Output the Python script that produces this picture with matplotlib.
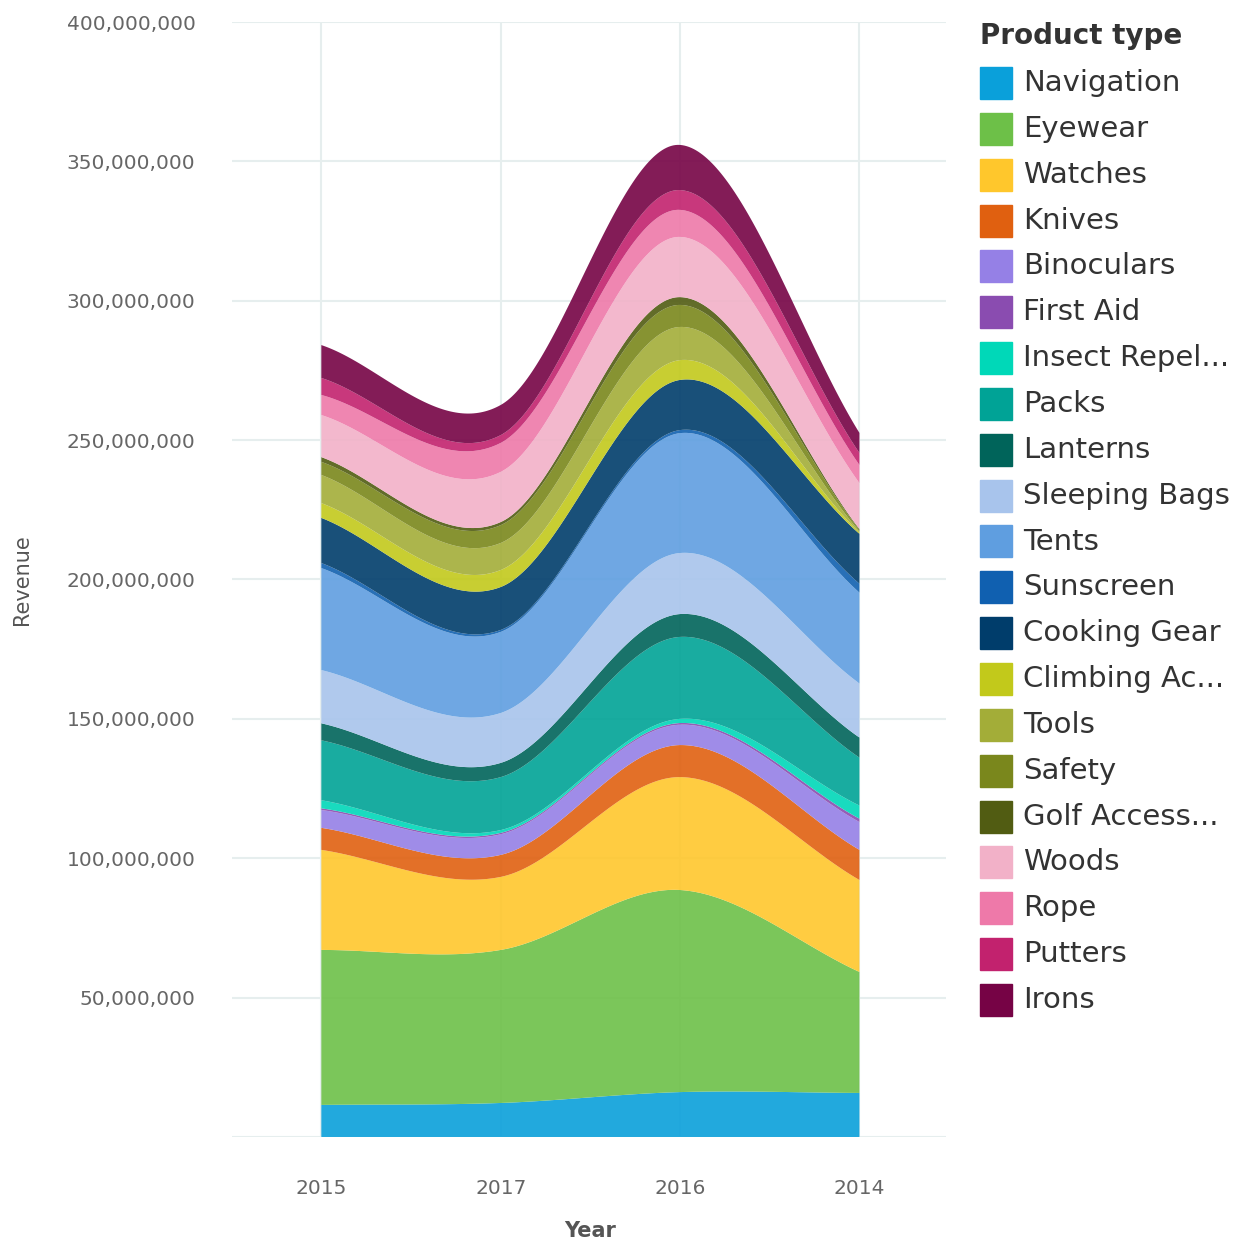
import numpy as np
import matplotlib.pyplot as plt
from matplotlib.patches import Rectangle
from matplotlib.ticker import FuncFormatter

# Revenue per product type, in millions, for each year category (in chart order)
years = ["2015", "2017", "2016", "2014"]

product_types = [
    "Navigation", "Eyewear", "Watches", "Knives", "Binoculars", "First Aid",
    "Insect Repel...", "Packs", "Lanterns", "Sleeping Bags", "Tents", "Sunscreen",
    "Cooking Gear", "Climbing Ac...", "Tools", "Safety", "Golf Access...", "Woods",
    "Rope", "Putters", "Irons",
]

navigation = [11.5, 12.2, 16.1, 15.8]
eyewear = [55.6, 54.9, 72.5, 43.4]
watches = [35.9, 26.2, 40.5, 33.0]
knives = [7.9, 7.9, 11.5, 10.8]
binoculars = [6.4, 7.4, 7.3, 10.0]
first_aid = [0.6, 0.5, 0.6, 1.2]
insect_repel = [2.9, 1.0, 1.5, 4.7]
packs = [21.5, 19.0, 29.4, 17.2]
lanterns = [6.1, 5.1, 8.2, 7.2]
sleeping_bags = [19.1, 17.9, 21.9, 19.4]
tents = [36.6, 29.1, 43.0, 32.6]
sunscreen = [1.8, 0.7, 1.1, 3.2]
cooking_gear = [16.2, 15.4, 18.0, 17.9]
climbing = [5.3, 6.1, 7.1, 0.4]
tools = [10.1, 9.7, 11.9, 0.5]
safety = [4.7, 6.4, 7.9, 0.5]
golf = [1.7, 1.1, 2.8, 0.3]
woods = [15.1, 18.0, 21.6, 16.5]
rope = [7.2, 10.4, 9.7, 6.5]
putters = [6.1, 2.8, 7.1, 4.3]
irons = [11.8, 10.8, 16.2, 7.2]

series = [navigation, eyewear, watches, knives, binoculars, first_aid, insect_repel,
          packs, lanterns, sleeping_bags, tents, sunscreen, cooking_gear, climbing,
          tools, safety, golf, woods, rope, putters, irons]

colors = ["#0aa0da", "#6dc048", "#ffc72c", "#e06010", "#9580e6", "#8a4cb0",
          "#00d8b8", "#00a396", "#00645a", "#a8c4ec", "#5f9ee0", "#1060b0",
          "#003d6b", "#c2c91b", "#a3ad38", "#7a871c", "#515c12", "#f2b1c8",
          "#ee79a9", "#c2226e", "#760345"]


def smooth(y, n=80):
    # cardinal (Catmull-Rom) spline through the category points
    y = np.asarray(y, dtype=float)
    k = len(y)
    m = np.zeros(k)
    m[0] = y[1] - y[0]
    m[-1] = y[-1] - y[-2]
    for i in range(1, k - 1):
        m[i] = (y[i + 1] - y[i - 1]) / 2
    xs, ys = [], []
    for i in range(k - 1):
        t = np.linspace(0, 1, n, endpoint=(i == k - 2))
        h00 = 2 * t**3 - 3 * t**2 + 1
        h10 = t**3 - 2 * t**2 + t
        h01 = -2 * t**3 + 3 * t**2
        h11 = t**3 - t**2
        xs.append(i + t)
        ys.append(h00 * y[i] + h10 * m[i] + h01 * y[i + 1] + h11 * m[i + 1])
    return np.concatenate(xs), np.concatenate(ys)


fig = plt.figure(figsize=(12.59, 12.43), dpi=100)
ax = fig.add_axes([0.184, 0.0853, 0.567, 0.897])

x_pos = np.arange(len(years))
smoothed = []
for s in series:
    xs, ys = smooth(np.array(s) * 1e6)
    smoothed.append(ys)
ax.stackplot(xs, *smoothed, colors=colors, alpha=0.9, linewidth=0)

ax.set_xlim(-0.5, 3.48)
ax.set_ylim(0, 400e6)
ax.set_xticks(x_pos)
ax.set_xticklabels(years)
ax.set_yticks(np.arange(0, 400e6 + 1, 50e6))
ax.yaxis.set_major_formatter(FuncFormatter(lambda v, p: "" if v == 0 else f"{int(v):,}"))
ax.tick_params(axis="both", length=0, labelsize=14.5, labelcolor="#666666")
ax.tick_params(axis="y", pad=26)
ax.tick_params(axis="x", pad=30)
ax.grid(True, color="#e6eeee", linewidth=1.5)
ax.set_axisbelow(True)
for sp in ax.spines.values():
    sp.set_visible(False)

W, H = 1259, 1243
fig.text(590 / W, 1 - 1231 / H, "Year", fontsize=15, color="#555555",
         fontweight="semibold", ha="center", va="center")
fig.text(22 / W, 1 - 580 / H, "Revenue", rotation=90, fontsize=15, color="#555555",
         ha="center", va="center")

# legend drawn by hand on the right side
fig.text(980 / W, 1 - 36 / H, "Product type", fontsize=20, fontweight="bold",
         color="#333333", ha="left", va="center")
for i, (name, c) in enumerate(zip(product_types, colors)):
    yc = 83 + i * 45.85
    fig.add_artist(Rectangle((980 / W, 1 - (yc + 16) / H), 32 / W, 32 / H,
                             transform=fig.transFigure, color=c))
    fig.text(1023 / W, 1 - yc / H, name, fontsize=21, color="#333333",
             ha="left", va="center")

fig.savefig("out.png", dpi=100)
